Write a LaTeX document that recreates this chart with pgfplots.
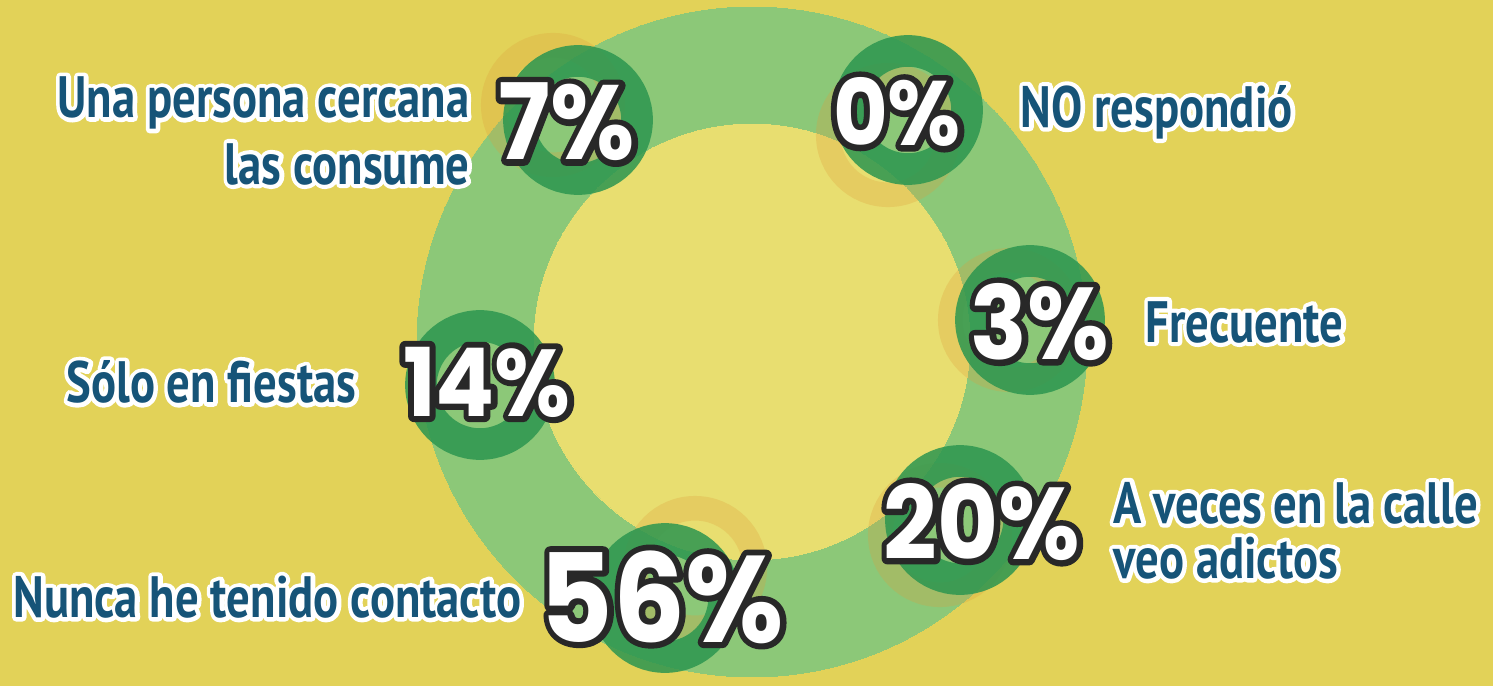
\documentclass[border=0pt]{standalone}
\usepackage{pgfplots}
\pgfplotsset{compat=1.18}
\usepackage{pgfplotstable}
\usepackage{fontspec}
\setmainfont{PT Sans}
\newfontfamily\labelfont[FakeStretch=0.8]{PT Sans Bold}
\newfontfamily\pctfont[FakeStretch=0.92]{Poppins Bold}
\definecolor{bgyellow}{RGB}{226,210,88}
\definecolor{holeyellow}{RGB}{232,222,112}
\definecolor{ringgreen}{RGB}{140,200,120}
\definecolor{dotgreen}{RGB}{44,150,80}
\definecolor{shadoworange}{RGB}{222,160,60}
\definecolor{labelblue}{RGB}{22,84,120}
\definecolor{pctdark}{RGB}{40,40,40}

% text with a stroked copy under it: #1 stroke colour, #2 stroke width (bp), #3 fill colour, #4 text
\newcommand\outlined[4]{%
  \rlap{\textcolor{#1}{\special{pdf:literal direct 1 Tr #2 w 1 j}#4\special{pdf:literal direct 0 Tr 0.4 w 0 j}}}%
  \textcolor{#3}{#4}}

% x, y in pixel units of the original picture (y from the bottom)
\pgfplotstableread{
x    y    pct  s
567  564  7    30
897  574  0    26
1040 364  3    29
487  304  14   27
982  164  20   29
662  89   56   35
}\pcttable

\pgfplotstableread{
x    y
578  566
908  576
1030 366
480  301
960  166
665  88
}\dottable

\pgfplotstableread{
x    y
553  581
888  551
1010 366
940  151
695  118
}\shadowtable

\begin{document}
\begin{tikzpicture}
\begin{axis}[
    width=14.93cm, height=6.86cm, scale only axis,
    xmin=0, xmax=1493, ymin=0, ymax=686,
    axis lines=none, ticks=none,
    axis background/.style={fill=bgyellow},
    clip=false,
  ]
% the big ring: a green disc with a lighter centre on it
\addplot[only marks, mark=*,
  mark options={fill=ringgreen, draw=ringgreen, line width=0pt},
  mark size=95.3pt] coordinates {(752,344)};
\addplot[only marks, mark=*,
  mark options={fill=holeyellow, draw=holeyellow, line width=0pt},
  mark size=62pt] coordinates {(752,344)};
% faint orange circles behind the dark ones
\addplot[only marks, mark=o,
  mark options={draw=shadoworange, line width=7pt, opacity=0.28},
  mark size=17pt] table[x=x, y=y] {\shadowtable};
% the dark circles on the ring
\addplot[only marks, mark=o,
  mark options={draw=dotgreen, line width=9pt, opacity=0.85},
  mark size=16.8pt] table[x=x, y=y] {\dottable};
% percentages
\addplot[only marks, mark=none,
  visualization depends on={\thisrow{s} \as \fs},
  point meta=explicit symbolic,
  nodes near coords={\fontsize{\fs pt}{\fs pt}\selectfont\pctfont
    \outlined{pctdark}{3.4}{white}{\pgfplotspointmeta\%}},
  every node near coord/.style={anchor=center, inner sep=0pt},
  ] table[x=x, y=y, meta=pct] {\pcttable};
% labels on the right
\addplot[only marks, mark=none,
  point meta=explicit symbolic,
  nodes near coords={\fontsize{16.6pt}{18pt}\selectfont\labelfont
    \outlined{white}{2.4}{labelblue}{\pgfplotspointmeta}},
  every node near coord/.style={anchor=west, inner sep=0pt},
  ] coordinates {
  (1020,574) [NO respondió]
  (1145,364) [Frecuente]
  (1113,183) [A veces en la calle]
  (1113,128) [veo adictos]
};
% labels on the left
\addplot[only marks, mark=none,
  point meta=explicit symbolic,
  nodes near coords={\fontsize{16.6pt}{18pt}\selectfont\labelfont
    \outlined{white}{2.4}{labelblue}{\pgfplotspointmeta}},
  every node near coord/.style={anchor=east, inner sep=0pt},
  ] coordinates {
  (470,583) [Una persona cercana]
  (470,522) [las consume]
  (357,304) [Sólo en fiestas]
  (522,89)  [Nunca he tenido contacto]
};
\end{axis}
\end{tikzpicture}
\end{document}
